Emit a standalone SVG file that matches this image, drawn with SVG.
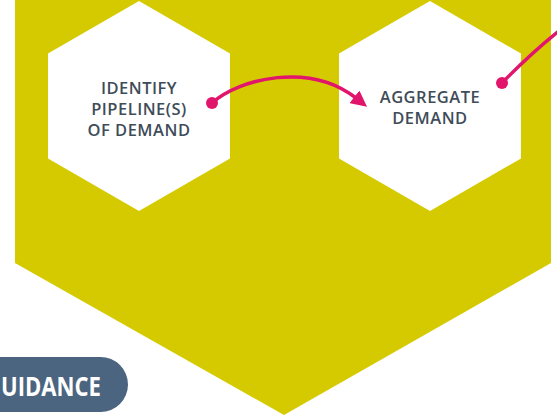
<svg xmlns="http://www.w3.org/2000/svg" width="557" height="416" viewBox="0 0 557 416">
  <style>
    .hex { fill: #ffffff; }
    .label { font-family: "Open Sans", "Liberation Sans", sans-serif; font-weight: 600; font-size: 16.5px; letter-spacing: 0.5px; fill: #404c58; text-anchor: middle; }
    .conn { fill: none; stroke: #e2156c; stroke-width: 3.5; stroke-linecap: round; }
    .dot { fill: #e2156c; }
    .pilltext { font-family: "Open Sans", "Liberation Sans", sans-serif; font-weight: 700; font-size: 27px; fill: #ffffff; }
  </style>
  <defs>
    <marker id="arrow" viewBox="0 0 16 16" refX="2" refY="8" markerWidth="16" markerHeight="16" markerUnits="userSpaceOnUse" orient="auto">
      <path d="M0,0 L16,8 L0,16 Z" fill="#e2156c"/>
    </marker>
  </defs>
  <rect width="557" height="416" fill="#ffffff"/>
  <polygon id="band" points="15,0 551,0 551,263 284,415 15,263" fill="#d5ca00"/>
  <g id="node-identify">
    <polygon class="hex" points="139,1 230,53.5 230,158.5 139,211 48,158.5 48,53.5"/>
    <text class="label" x="139" y="94">IDENTIFY</text>
    <text class="label" x="139" y="115">PIPELINE(S)</text>
    <text class="label" x="139" y="136">OF DEMAND</text>
  </g>
  <g id="node-aggregate">
    <polygon class="hex" points="430,1 521,53.5 521,158.5 430,211 339,158.5 339,53.5"/>
    <text class="label" x="430" y="103">AGGREGATE</text>
    <text class="label" x="430" y="124">DEMAND</text>
  </g>
  <g id="node-guidance">
    <rect x="-30" y="357" width="158" height="55" rx="27.5" fill="#4b6480"/>
    <text class="pilltext" x="1" y="396" textLength="100" lengthAdjust="spacingAndGlyphs">UIDANCE</text>
  </g>
  <g id="connectors">
    <path class="conn" d="M212,103 C240,78 310,62 356,98" marker-end="url(#arrow)"/>
    <circle class="dot" cx="212" cy="103" r="6"/>
    <path class="conn" d="M502,83 Q530,54 560,30"/>
    <circle class="dot" cx="502" cy="83" r="6"/>
  </g>
</svg>
